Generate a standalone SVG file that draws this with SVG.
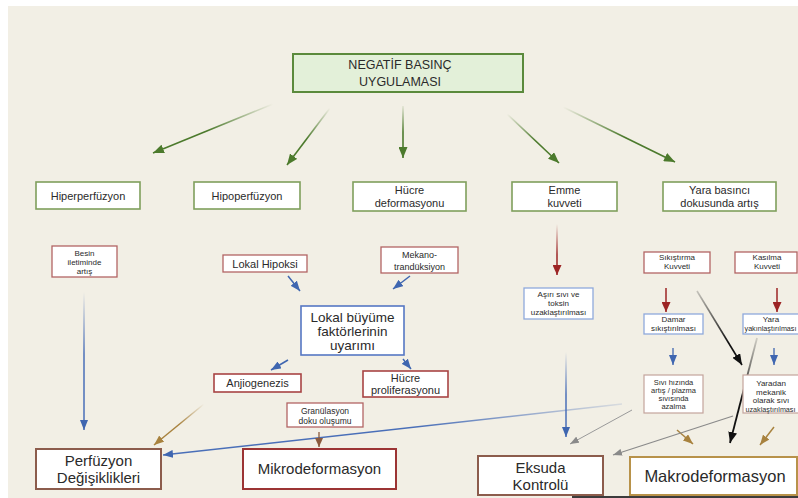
<svg xmlns="http://www.w3.org/2000/svg" width="798" height="498" viewBox="0 0 798 498">
  <style>
    text { font-family: "Liberation Sans", Arial, sans-serif; fill: #2a2a2a; text-anchor: middle; }
    .box { fill: #ffffff; }
    .green { stroke: #7f9f5c; stroke-width: 1.6; }
    .red { stroke: #b26464; stroke-width: 1.3; }
    .red2 { stroke: #a84444; stroke-width: 1.6; }
    .blue { stroke: #5677c4; stroke-width: 1.6; }
    .lblue { stroke: #8fa9dc; stroke-width: 1.3; }
    .tan { stroke: #c4a49c; stroke-width: 1.2; }
    .brown { stroke: #8c5c4c; stroke-width: 2; }
    .t8 { font-size: 8px; }
    .t85 { font-size: 8.5px; }
    .t9 { font-size: 9px; }
    .t10 { font-size: 10px; }
    .t11 { font-size: 11px; }
    .t13 { font-size: 13.5px; }
    .t15 { font-size: 15px; }
    .conn line { fill: none; }
  </style>
  <defs>
    <marker id="mGreen" markerUnits="userSpaceOnUse" markerWidth="11" markerHeight="9" refX="11" refY="4.5" orient="auto"><path d="M0,0 L11,4.5 L0,9 z" fill="#4c7a2c"/></marker>
    <marker id="mBlue" markerUnits="userSpaceOnUse" markerWidth="10" markerHeight="8" refX="10" refY="4" orient="auto"><path d="M0,0 L10,4 L0,8 z" fill="#3f66b0"/></marker>
    <marker id="mRed" markerUnits="userSpaceOnUse" markerWidth="10" markerHeight="9" refX="10" refY="4.5" orient="auto"><path d="M0,0 L10,4.5 L0,9 z" fill="#9c2424"/></marker>
    <marker id="mBrown" markerUnits="userSpaceOnUse" markerWidth="9" markerHeight="8" refX="9" refY="4" orient="auto"><path d="M0,0 L9,4 L0,8 z" fill="#8b5a3c"/></marker>
    <marker id="mTan" markerUnits="userSpaceOnUse" markerWidth="10" markerHeight="8" refX="10" refY="4" orient="auto"><path d="M0,0 L10,4 L0,8 z" fill="#a8823e"/></marker>
    <marker id="mGray" markerUnits="userSpaceOnUse" markerWidth="9" markerHeight="7" refX="9" refY="3.5" orient="auto"><path d="M0,0 L9,3.5 L0,7 z" fill="#8a8a8a"/></marker>
    <marker id="mBlack" markerUnits="userSpaceOnUse" markerWidth="11" markerHeight="9" refX="11" refY="4.5" orient="auto"><path d="M0,0 L11,4.5 L0,9 z" fill="#111111"/></marker>

    <!-- fading strokes: transparent at the tail, solid toward the head -->
    <linearGradient id="gG1" gradientUnits="userSpaceOnUse" x1="273" y1="104" x2="153" y2="153"><stop offset="0" stop-color="#4c7a2c" stop-opacity="0"/><stop offset="0.55" stop-color="#4c7a2c"/></linearGradient>
    <linearGradient id="gG2" gradientUnits="userSpaceOnUse" x1="330" y1="108" x2="287" y2="165"><stop offset="0" stop-color="#4c7a2c" stop-opacity="0"/><stop offset="0.55" stop-color="#4c7a2c"/></linearGradient>
    <linearGradient id="gG3" gradientUnits="userSpaceOnUse" x1="403" y1="106" x2="403" y2="158"><stop offset="0" stop-color="#4c7a2c" stop-opacity="0.1"/><stop offset="0.5" stop-color="#4c7a2c"/></linearGradient>
    <linearGradient id="gG4" gradientUnits="userSpaceOnUse" x1="507" y1="114" x2="559" y2="163"><stop offset="0" stop-color="#4c7a2c" stop-opacity="0"/><stop offset="0.55" stop-color="#4c7a2c"/></linearGradient>
    <linearGradient id="gG5" gradientUnits="userSpaceOnUse" x1="563" y1="107" x2="675" y2="162"><stop offset="0" stop-color="#4c7a2c" stop-opacity="0"/><stop offset="0.55" stop-color="#4c7a2c"/></linearGradient>
    <linearGradient id="gB1" gradientUnits="userSpaceOnUse" x1="84" y1="292" x2="84" y2="430"><stop offset="0" stop-color="#4a6fb8" stop-opacity="0"/><stop offset="0.45" stop-color="#4a6fb8"/></linearGradient>
    <linearGradient id="gB6" gradientUnits="userSpaceOnUse" x1="622" y1="404" x2="163" y2="455"><stop offset="0" stop-color="#4a6fb8" stop-opacity="0.15"/><stop offset="0.45" stop-color="#4a6fb8"/></linearGradient>
    <linearGradient id="gB7" gradientUnits="userSpaceOnUse" x1="566" y1="352" x2="566" y2="437"><stop offset="0" stop-color="#4a6fb8" stop-opacity="0"/><stop offset="0.5" stop-color="#4a6fb8"/></linearGradient>
    <linearGradient id="gR1" gradientUnits="userSpaceOnUse" x1="557" y1="224" x2="557" y2="275"><stop offset="0" stop-color="#9c2424" stop-opacity="0"/><stop offset="0.6" stop-color="#9c2424"/></linearGradient>
    <linearGradient id="gT1" gradientUnits="userSpaceOnUse" x1="204" y1="404" x2="154" y2="445"><stop offset="0" stop-color="#a8823e" stop-opacity="0"/><stop offset="0.5" stop-color="#a8823e"/></linearGradient>
    <linearGradient id="gK1" gradientUnits="userSpaceOnUse" x1="697" y1="291" x2="742" y2="365"><stop offset="0" stop-color="#111" stop-opacity="0.2"/><stop offset="0.7" stop-color="#111"/></linearGradient>
    <linearGradient id="gK2" gradientUnits="userSpaceOnUse" x1="757" y1="338" x2="730" y2="443"><stop offset="0" stop-color="#111" stop-opacity="0.15"/><stop offset="0.6" stop-color="#111"/></linearGradient>
  </defs>

  <!-- page -->
  <rect x="0" y="0" width="798" height="498" fill="#ffffff"/>
  <rect x="8" y="6" width="790" height="492" fill="#f2efe5"/>

  <!-- connectors -->
  <g id="connectors" class="conn">
    <line x1="273" y1="104" x2="153" y2="153" stroke="url(#gG1)" stroke-width="1.6" marker-end="url(#mGreen)"/>
    <line x1="330" y1="108" x2="287" y2="165" stroke="url(#gG2)" stroke-width="1.6" marker-end="url(#mGreen)"/>
    <line x1="403" y1="106" x2="403" y2="158" stroke="url(#gG3)" stroke-width="1.6" marker-end="url(#mGreen)"/>
    <line x1="507" y1="114" x2="559" y2="163" stroke="url(#gG4)" stroke-width="1.6" marker-end="url(#mGreen)"/>
    <line x1="563" y1="107" x2="675" y2="162" stroke="url(#gG5)" stroke-width="1.6" marker-end="url(#mGreen)"/>

    <line x1="84" y1="292" x2="84" y2="430" stroke="url(#gB1)" stroke-width="1.5" marker-end="url(#mBlue)"/>
    <line x1="288" y1="276" x2="300" y2="291" stroke="#3f66b0" stroke-width="1.5" marker-end="url(#mBlue)"/>
    <line x1="410" y1="276" x2="393" y2="289" stroke="#3f66b0" stroke-width="1.5" marker-end="url(#mBlue)"/>
    <line x1="288" y1="360" x2="271" y2="370" stroke="#3f66b0" stroke-width="1.5" marker-end="url(#mBlue)"/>
    <line x1="403" y1="359" x2="411" y2="369" stroke="#3f66b0" stroke-width="1.5" marker-end="url(#mBlue)"/>
    <line x1="622" y1="404" x2="163" y2="455" stroke="url(#gB6)" stroke-width="1.5" marker-end="url(#mBlue)"/>
    <line x1="566" y1="352" x2="566" y2="437" stroke="url(#gB7)" stroke-width="1.5" marker-end="url(#mBlue)"/>
    <line x1="673" y1="348" x2="673" y2="365" stroke="#3f66b0" stroke-width="1.3" marker-end="url(#mBlue)"/>
    <line x1="774" y1="348" x2="774" y2="365" stroke="#3f66b0" stroke-width="1.3" marker-end="url(#mBlue)"/>

    <line x1="557" y1="224" x2="557" y2="275" stroke="url(#gR1)" stroke-width="1.5" marker-end="url(#mRed)"/>
    <line x1="666" y1="288" x2="666" y2="312" stroke="#9c2424" stroke-width="1.5" marker-end="url(#mRed)"/>
    <line x1="777" y1="288" x2="777" y2="312" stroke="#9c2424" stroke-width="1.5" marker-end="url(#mRed)"/>

    <line x1="319" y1="432" x2="319" y2="447" stroke="#8b5a3c" stroke-width="1.3" marker-end="url(#mBrown)"/>

    <line x1="204" y1="404" x2="154" y2="445" stroke="url(#gT1)" stroke-width="1.5" marker-end="url(#mTan)"/>
    <line x1="677" y1="430" x2="693" y2="444" stroke="#a8823e" stroke-width="1.5" marker-end="url(#mTan)"/>
    <line x1="774" y1="427" x2="760" y2="445" stroke="#a8823e" stroke-width="1.5" marker-end="url(#mTan)"/>

    <line x1="632" y1="410" x2="570" y2="444" stroke="#9a9a9a" stroke-width="1" marker-end="url(#mGray)"/>
    <line x1="733" y1="416" x2="613" y2="455" stroke="#8a8a8a" stroke-width="1.2" marker-end="url(#mGray)"/>

    <line x1="697" y1="291" x2="742" y2="365" stroke="url(#gK1)" stroke-width="1.6" marker-end="url(#mBlack)"/>
    <line x1="757" y1="338" x2="730" y2="443" stroke="url(#gK2)" stroke-width="1.8" marker-end="url(#mBlack)"/>
  </g>

  <!-- root -->
  <g id="negatif-basinc">
    <rect x="293" y="54" width="230" height="38" fill="#e3f0d9" stroke="#5b8a3c" stroke-width="2"/>
    <text x="400" y="69" font-size="12.5">NEGATİF BASINÇ</text>
    <text x="400" y="86" font-size="12.5">UYGULAMASI</text>
  </g>

  <!-- second level -->
  <g id="hiperperfuzyon">
    <rect class="box green" x="36" y="182" width="104" height="27"/>
    <text class="t11" x="88" y="199.5">Hiperperfüzyon</text>
  </g>
  <g id="hipoperfuzyon">
    <rect class="box green" x="194" y="182" width="106" height="27"/>
    <text class="t11" x="247" y="199.5">Hipoperfüzyon</text>
  </g>
  <g id="hucre-deformasyonu">
    <rect class="box green" x="353" y="182" width="113" height="29"/>
    <text class="t11" x="409.5" y="194">Hücre</text>
    <text class="t11" x="409.5" y="207">deformasyonu</text>
  </g>
  <g id="emme-kuvveti">
    <rect class="box green" x="512" y="182" width="105" height="29"/>
    <text class="t11" x="564.5" y="194">Emme</text>
    <text class="t11" x="564.5" y="207">kuvveti</text>
  </g>
  <g id="yara-basinci">
    <rect class="box green" x="663" y="182" width="113" height="29"/>
    <text class="t11" x="719.5" y="194">Yara basıncı</text>
    <text class="t11" x="719.5" y="207">dokusunda artış</text>
  </g>

  <!-- perfusion / micro branch -->
  <g id="besin-iletimi">
    <rect class="box red" x="52" y="246" width="65" height="31"/>
    <text class="t8" x="84.5" y="256">Besin</text>
    <text class="t8" x="84.5" y="265">iletiminde</text>
    <text class="t8" x="84.5" y="274">artış</text>
  </g>
  <g id="lokal-hipoksi">
    <rect class="box red" x="223" y="255" width="84" height="17"/>
    <text class="t11" x="265" y="267.5">Lokal Hipoksi</text>
  </g>
  <g id="mekanotransduksiyon">
    <rect class="box red" x="381" y="247" width="77" height="26"/>
    <text class="t9" x="419.5" y="258">Mekano-</text>
    <text class="t9" x="419.5" y="269.5">trandüksiyon</text>
  </g>
  <g id="lokal-buyume">
    <rect class="box blue" x="301" y="306" width="103" height="49"/>
    <text class="t13" x="352.5" y="322">Lokal büyüme</text>
    <text class="t13" x="352.5" y="335.5">faktörlerinin</text>
    <text class="t13" x="352.5" y="349.5">uyarımı</text>
  </g>
  <g id="anjiogenezis">
    <rect class="box red2" x="214" y="374" width="87" height="18"/>
    <text class="t11" x="257.5" y="387">Anjiogenezis</text>
  </g>
  <g id="hucre-proliferasyonu">
    <rect class="box red2" x="363" y="371" width="85" height="26"/>
    <text class="t11" x="405.5" y="382">Hücre</text>
    <text class="t11" x="405.5" y="394">proliferasyonu</text>
  </g>
  <g id="granulasyon">
    <rect class="box red" x="287" y="403" width="76" height="24"/>
    <text class="t85" x="325" y="413.5">Granülasyon</text>
    <text class="t85" x="325" y="424">doku oluşumu</text>
  </g>
  <g id="perfuzyon-degisiklikleri">
    <rect class="box brown" x="36" y="449" width="125" height="40"/>
    <text class="t15" x="98.5" y="466">Perfüzyon</text>
    <text class="t15" x="98.5" y="483">Değişiklikleri</text>
  </g>
  <g id="mikrodeformasyon">
    <rect class="box" x="243" y="449" width="153" height="40" stroke="#9c3434" stroke-width="2"/>
    <text class="t15" x="319.5" y="474">Mikrodeformasyon</text>
  </g>

  <!-- exudate / macro branch -->
  <g id="asiri-sivi">
    <rect class="box lblue" x="524" y="288" width="69" height="31"/>
    <text class="t8" x="558.5" y="297">Aşırı sıvı ve</text>
    <text class="t8" x="558.5" y="306">toksin</text>
    <text class="t8" x="558.5" y="315">uzaklaştırılması</text>
  </g>
  <g id="sikistirma-kuvveti">
    <rect class="box red" x="644" y="252" width="66" height="21"/>
    <text class="t8" x="677" y="260">Sıkıştırma</text>
    <text class="t8" x="677" y="269">Kuvveti</text>
  </g>
  <g id="kasilma-kuvveti">
    <rect class="box red" x="735" y="252" width="62" height="21"/>
    <text class="t8" x="767" y="260">Kasılma</text>
    <text class="t8" x="767" y="269">Kuvveti</text>
  </g>
  <g id="damar-sikistirilmasi">
    <rect class="box lblue" x="644" y="314" width="59" height="20"/>
    <text class="t8" x="673.5" y="322">Damar</text>
    <text class="t8" x="673.5" y="331">sıkıştırılması</text>
  </g>
  <g id="yara-yakinlastirilmasi">
    <rect class="box lblue" x="743" y="314" width="60" height="20"/>
    <text class="t8" x="771" y="322">Yara</text>
    <text x="770.5" y="331" font-size="7.2">yakınlaştırılması</text>
  </g>
  <g id="sivi-hizinda-artis">
    <rect class="box tan" x="644" y="375" width="59" height="38"/>
    <text x="673.5" y="385" font-size="7.5">Sıvı hızında</text>
    <text x="673.5" y="393" font-size="7.5">artış / plazma</text>
    <text x="673.5" y="401" font-size="7.5">sıvısında</text>
    <text x="673.5" y="409" font-size="7.5">azalma</text>
  </g>
  <g id="yaradan-sivi">
    <rect class="box tan" x="743" y="375" width="60" height="38"/>
    <text class="t8" x="771" y="386">Yaradan</text>
    <text class="t8" x="771" y="394.5">mekanik</text>
    <text class="t8" x="771" y="403">olarak  sıvı</text>
    <text x="770.5" y="411.5" font-size="7.2">uzaklaştırılması</text>
  </g>
  <g id="eksuda-kontrolu">
    <rect class="box brown" x="478" y="456" width="125" height="39"/>
    <text class="t15" x="540.5" y="473">Eksuda</text>
    <text class="t15" x="540.5" y="490">Kontrolü</text>
  </g>
  <g id="makrodeformasyon">
    <rect class="box" x="630" y="457" width="167" height="38" stroke="#b8924a" stroke-width="2"/>
    <text x="715" y="482" font-size="16.5">Makrodeformasyon</text>
  </g>

  <!-- lower edge strip -->
  <rect x="572" y="496" width="226" height="2" fill="#3c3c3c"/>
</svg>
